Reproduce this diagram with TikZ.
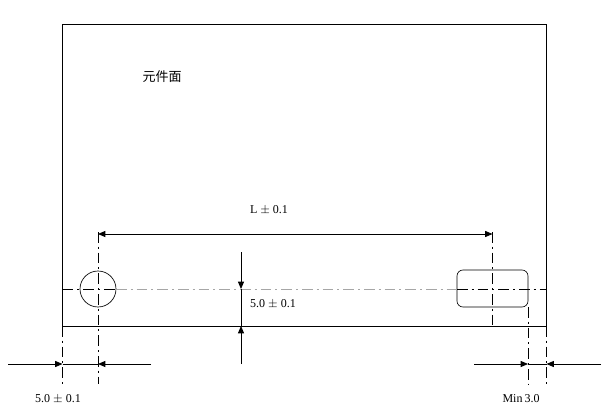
\documentclass[tikz,border=0pt]{standalone}
\usepackage{fontspec}
\setmainfont{Liberation Serif}
\newfontfamily\cjk{Noto Sans CJK SC}
\usetikzlibrary{arrows.meta}
\begin{document}
\begin{tikzpicture}[x=0.75pt,y=-0.75pt,
			every node/.style={font=\fontsize{9}{11}\selectfont,inner sep=0pt},
			outline/.style={draw,line width=0.7pt},
			center line/.style={draw,line width=0.5pt,dash pattern=on 8pt off 3pt on 1.5pt off 3pt},
			dim line/.style={draw,line width=0.6pt},
			dim arrow/.style={dim line,-{Triangle[length=5.5pt,width=4.5pt]}}]
\useasboundingbox (0,0) rectangle (610,410);
\node[outline,rectangle,minimum width=363pt,minimum height=226.5pt] (board) at (304.5,175) {};
\node[outline,circle,line width=0.5pt,minimum size=27pt] (hole) at (98,289) {};
\node[outline,rectangle,rounded corners=4.5pt,line width=0.5pt,minimum width=53.25pt,minimum height=27.75pt] (slot) at (492.5,288.5) {};
\node (face) at (162,77) {\fontsize{9.75}{11}\cjk 元件面};
\node (ltext) at (269,210) {L $\pm$ 0.1};
\node (htext) at (273,304) {5.0 $\pm$ 0.1};
\node (atext) at (58,399) {5.0 $\pm$ 0.1};
\node (mintext) at (521,399) {Min\,3.0};
% center lines
\coordinate (cl0) at (62.5,289);
\coordinate (cl1) at (116,289);
\coordinate (cl2) at (457,289);
\coordinate (cl3) at (546.5,289);
\coordinate (holetop) at (98,232);
\coordinate (holebot) at (98,384);
\coordinate (slottop) at (492.5,232);
\coordinate (slotbot) at (492.5,326);
\coordinate (slotr0) at (528,307);
\coordinate (slotr1) at (528,384);
\coordinate (edger0) at (546.5,326);
\coordinate (edger1) at (546.5,384);
\coordinate (edgel0) at (62.5,326);
\coordinate (edgel1) at (62.5,384);
\draw[center line] (cl0) -- (cl1);
\draw[center line,gray!70] (cl1) -- (cl2);
\draw[center line] (cl2) -- (cl3);
\draw[center line] (holetop) -- (holebot);
\draw[center line] (slottop) -- (slotbot);
\draw[center line] (slotr0) -- (slotr1);
\draw[center line] (edger0) -- (edger1);
\draw[center line] (edgel0) -- (edgel1);
% dimension L
\coordinate (la) at (98,234);
\coordinate (lb) at (492.5,234);
\draw[dim arrow,{Triangle[length=5.5pt,width=4.5pt]}-{Triangle[length=5.5pt,width=4.5pt]}] (la) -- (lb);
% dimension height
\coordinate (ha) at (241,252);
\coordinate (hb) at (241,289);
\coordinate (hc) at (241,326);
\coordinate (hd) at (241,364);
\draw[dim arrow] (ha) -- (hb);
\draw[dim arrow] (hd) -- (hc);
\draw[dim line] (hb) -- (hc);
% dimension left
\coordinate (aa) at (8,364);
\coordinate (ab) at (62.5,364);
\coordinate (ac) at (98,364);
\coordinate (ad) at (151,364);
\draw[dim arrow] (aa) -- (ab);
\draw[dim arrow] (ad) -- (ac);
\draw[dim line] (ab) -- (ac);
% dimension right
\coordinate (ma) at (474,364);
\coordinate (mb) at (528,364);
\coordinate (mc) at (546.5,364);
\coordinate (md) at (601,364);
\draw[dim arrow] (ma) -- (mb);
\draw[dim arrow] (md) -- (mc);
\draw[dim line] (mb) -- (mc);
\end{tikzpicture}
\end{document}
